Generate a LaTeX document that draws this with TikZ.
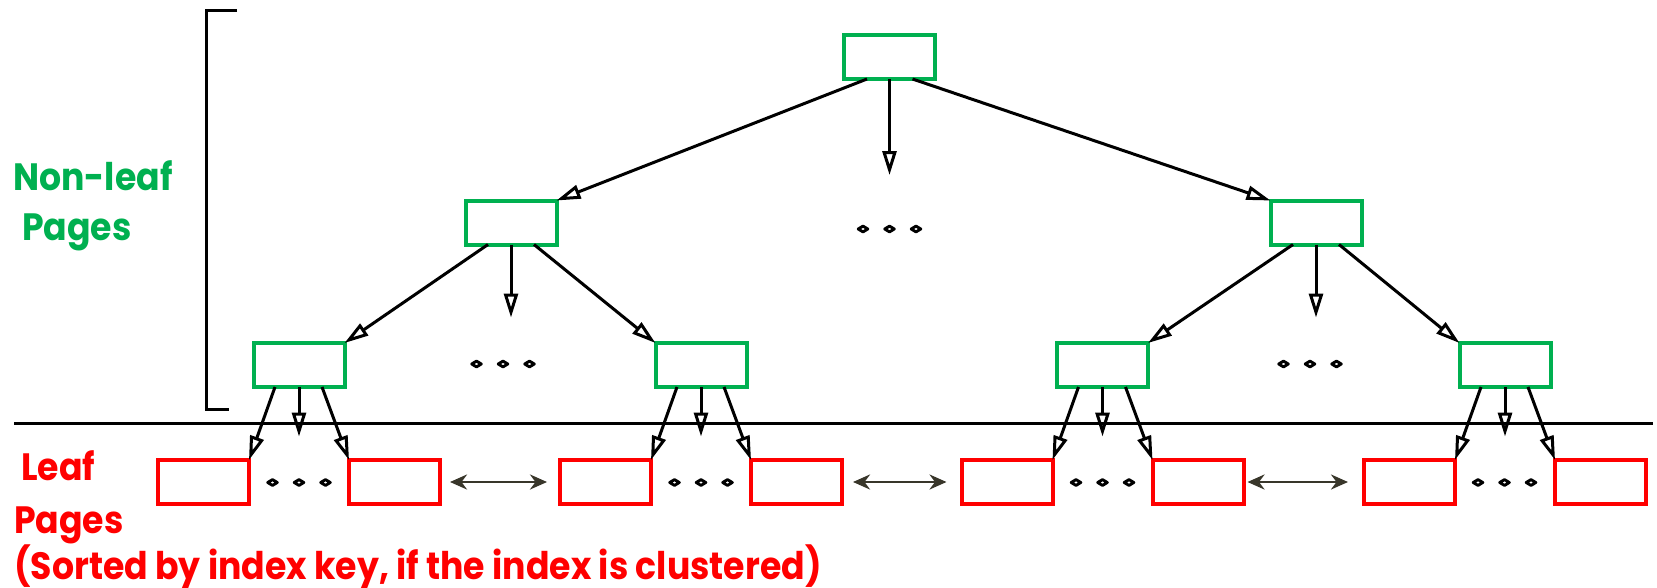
\documentclass[tikz,border=0pt]{standalone}
\usepackage{fontspec}
\setmainfont{Poppins}
\usetikzlibrary{arrows.meta}
\definecolor{pgreen}{RGB}{0,176,80}
\definecolor{pred}{RGB}{255,0,0}
\definecolor{parrow}{RGB}{56,54,42}
\newcommand{\tall}[1]{\scalebox{1.02}[1.12]{#1}}
\begin{document}
\begin{tikzpicture}[x=1pt,y=-1pt,
  inner/.style={draw=pgreen,line width=4pt,minimum width=91pt,minimum height=44pt,inner sep=0pt,outer sep=0pt,rectangle},
  leaf/.style={draw=pred,line width=4pt,minimum width=91pt,minimum height=44pt,inner sep=0pt,outer sep=0pt,rectangle},
  ptr/.style={line width=3pt,-{Triangle[open,length=24pt,width=14pt]}},
  sib/.style={draw=parrow,line width=2.8pt,{Stealth[length=17pt,width=15pt,inset=5.5pt]}-{Stealth[length=17pt,width=15pt,inset=5.5pt]}},
  lbl/.style={anchor=base west,inner sep=0pt,font=\fontsize{34}{40}\selectfont\bfseries},
  dots/.pic={\foreach \dx in {-26.5,0,26.5}{\draw[line width=2.9pt,line join=round] (\dx-4.8,0)--(\dx,-2.9)--(\dx+4.8,0)--(\dx,2.9)--cycle;}}
]
\useasboundingbox (0,0) rectangle (1657,587);
% bracket and separator
\draw[line width=3pt] (237,10.3) -- (206.7,10.3) -- (206.7,409) -- (229,409);
\draw[line width=3pt] (14,423.3) -- (1653,423.3);
% labels
\node[lbl,text=pgreen] (nl1) at (13,190) {\tall{Non-leaf}};
\node[lbl,text=pgreen] (nl2) at (22,240) {\tall{Pages}};
\node[lbl,text=pred] (lf1) at (21,480) {\tall{Leaf}};
\node[lbl,text=pred] (lf2) at (14,533) {\tall{Pages}};
\node[lbl,text=pred] (lf3) at (14,579) {\tall{(Sorted by index key, if the index is clustered)}};
% non-leaf nodes
\node[inner] (root) at (889.5,57) {};
\node[inner] (a) at (511,222.5) {};
\node[inner] (b) at (1316,222.5) {};
\node[inner] (a1) at (299,365) {};
\node[inner] (a2) at (701,365) {};
\node[inner] (b1) at (1102.5,365) {};
\node[inner] (b2) at (1505,365) {};
% leaves
\foreach \n/\x in {1/203.5,2/394.5,3/605.5,4/796.5,5/1007,6/1198,7/1409.5,8/1600.5}
  \node[leaf] (l\n) at (\x,482) {};
% free ends
\coordinate (rm) at (889.5,175);
\coordinate (am) at (511,317.5);
\coordinate (bm) at (1316,317.5);
\coordinate (a1m) at (299,436.5);
\coordinate (a2m) at (701,436.5);
\coordinate (b1m) at (1102.5,436.5);
\coordinate (b2m) at (1505,436.5);
% root pointers
\draw[ptr] ([xshift=-22.5pt]root.south) -- (a.north east);
\draw[ptr] (root.south) -- (rm);
\draw[ptr] ([xshift=23pt]root.south) -- (b.north west);
% level-1 pointers
\foreach \p/\c/\d in {a/a1/a2,b/b1/b2}{
  \draw[ptr] ([xshift=-23pt]\p.south) -- (\c.north east);
  \draw[ptr] (\p.south) -- (\p m);
  \draw[ptr] ([xshift=23pt]\p.south) -- (\d.north west);
}
% level-2 pointers to leaves
\foreach \p/\c/\d in {a1/l1/l2,a2/l3/l4,b1/l5/l6,b2/l7/l8}{
  \draw[ptr] ([xshift=-24pt]\p.south) -- (\c.north east);
  \draw[ptr] (\p.south) -- (\p m);
  \draw[ptr] ([xshift=23pt]\p.south) -- (\d.north west);
}
% sibling links
\draw[sib,shorten <=10pt,shorten >=13pt] (l2.east) -- (l3.west);
\draw[sib,shorten <=11pt,shorten >=15pt] (l4.east) -- (l5.west);
\draw[sib,shorten <=4pt,shorten >=16pt] (l6.east) -- (l7.west);
% ellipses
\pic at (889.5,229) {dots};
\pic at (503,364) {dots};
\pic at (1310,364) {dots};
\foreach \x in {299,701,1102.5,1504.5} \pic at (\x,482.5) {dots};
\end{tikzpicture}
\end{document}
